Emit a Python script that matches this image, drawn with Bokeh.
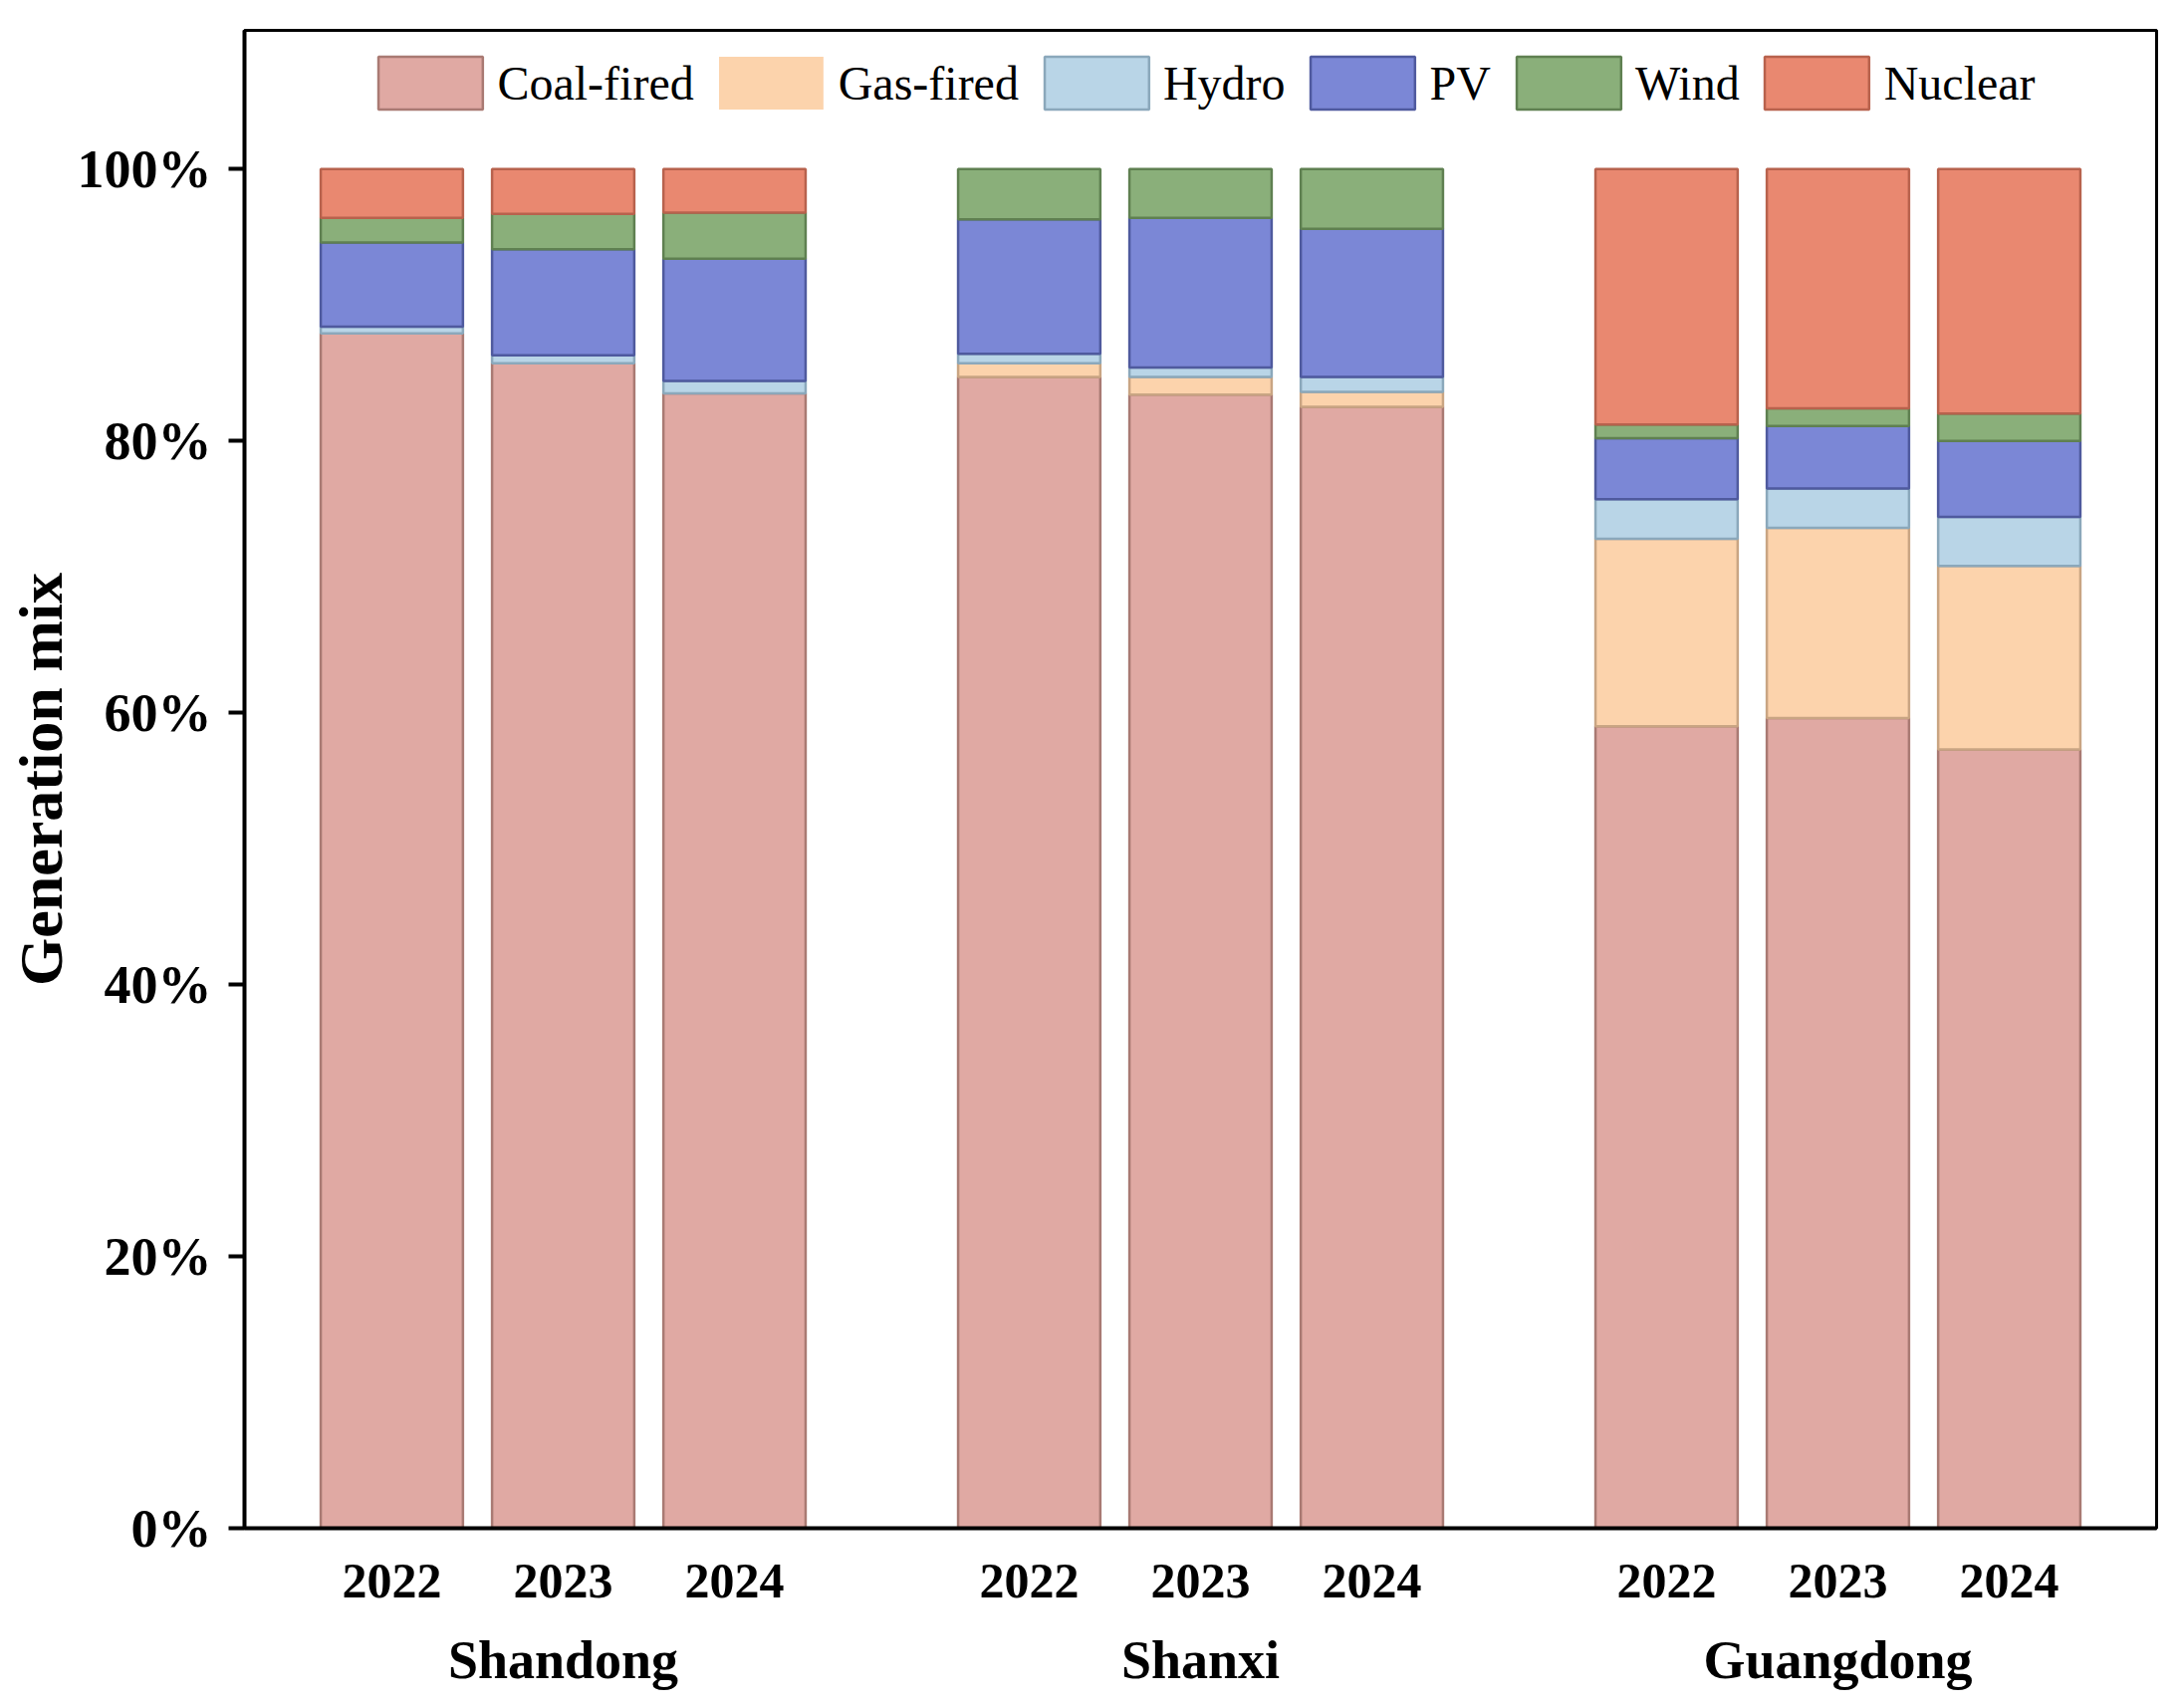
from bokeh.plotting import figure
from bokeh.models import ColumnDataSource, FactorRange, Legend, LegendItem, FixedTicker, PrintfTickFormatter
from bokeh.embed import file_html
from bokeh.resources import INLINE

# generation mix (%) per province and year
provinces = ["Shandong", "Shanxi", "Guangdong"]
years = ["2022", "2023", "2024"]
sources = ["Coal-fired", "Gas-fired", "Hydro", "PV", "Wind", "Nuclear"]

coal = [87.9, 85.7, 83.5, 84.7, 83.4, 82.5, 59.0, 59.6, 57.3]
gas = [0.0, 0.0, 0.0, 1.0, 1.3, 1.1, 13.8, 14.0, 13.5]
hydro = [0.5, 0.6, 0.9, 0.7, 0.7, 1.1, 2.9, 2.9, 3.6]
pv = [6.2, 7.8, 9.0, 9.9, 11.0, 10.9, 4.5, 4.6, 5.6]
wind = [1.8, 2.6, 3.4, 3.7, 3.6, 4.4, 1.0, 1.3, 2.0]
nuclear = [3.6, 3.3, 3.2, 0.0, 0.0, 0.0, 18.8, 17.6, 18.0]

y_ticks = [0, 20, 40, 60, 80, 100]

fills = ["#e0a9a3", "#fcd3ac", "#b9d5e7", "#7b87d6", "#8aaf7a", "#e98870"]
edges = ["#a97a73", "#c9a583", "#8ba8bb", "#4f5a9e", "#5f8051", "#b8624d"]

x = [(p, y) for p in provinces for y in years]
data = dict(x=x)
for s, vals in zip(sources, [coal, gas, hydro, pv, wind, nuclear]):
    data[s] = vals
    # hide the outline of empty segments
    data[s + "_la"] = [1.0 if v > 0 else 0.0 for v in vals]
src = ColumnDataSource(data=data)

xr = FactorRange(*x, group_padding=0.72, range_padding=0.36, range_padding_units="absolute")

p = figure(x_range=xr, y_range=(0, 110.2), width=2174, height=1699,
           output_backend="svg", toolbar_location=None,
           min_border_left=245, min_border_right=9, min_border_top=30, min_border_bottom=158)

rs = p.vbar_stack(sources, x="x", width=0.83, source=src,
                  fill_color=fills, line_color=edges, line_width=2.5,
                  line_alpha=[s + "_la" for s in sources])

legend = Legend(items=[LegendItem(label=s, renderers=[r]) for s, r in zip(sources, rs)],
                orientation="horizontal", location="top_center",
                glyph_width=131, glyph_height=66, label_standoff=2, spacing=12,
                label_text_font="Liberation Serif", label_text_font_size="48px",
                label_text_color="black", border_line_color=None,
                background_fill_alpha=0, margin=20, padding=10)
p.add_layout(legend, "center")

p.xgrid.grid_line_color = None
p.ygrid.grid_line_color = None
p.outline_line_color = "black"
p.outline_line_width = 3
p.outline_line_alpha = 1

p.yaxis.ticker = FixedTicker(ticks=y_ticks)
p.yaxis.formatter = PrintfTickFormatter(format="%d%%")
p.yaxis.axis_label = "Generation mix"
p.yaxis.axis_label_text_font = "Liberation Serif"
p.yaxis.axis_label_text_font_style = "bold"
p.yaxis.axis_label_text_font_size = "62px"
p.yaxis.axis_label_text_color = "black"
p.yaxis.axis_label_standoff = 0
p.yaxis.major_label_text_font = "Liberation Serif"
p.yaxis.major_label_text_font_style = "bold"
p.yaxis.major_label_text_font_size = "54px"
p.yaxis.major_label_text_color = "black"
p.yaxis.major_label_standoff = 17
p.yaxis.major_tick_out = 16
p.yaxis.major_tick_in = 0
p.yaxis.major_tick_line_width = 4
p.yaxis.minor_tick_line_color = None
p.yaxis.axis_line_width = 4

p.xaxis.major_label_text_font = "Liberation Serif"
p.xaxis.major_label_text_font_style = "bold"
p.xaxis.major_label_text_font_size = "50px"
p.xaxis.major_label_text_color = "black"
p.xaxis.group_text_font = "Liberation Serif"
p.xaxis.group_text_font_style = "bold"
p.xaxis.group_text_font_size = "54px"
p.xaxis.group_text_line_height = 0.8
p.xaxis.group_text_color = "black"
p.xaxis.major_tick_line_color = None
p.xaxis.minor_tick_line_color = None
p.xaxis.separator_line_color = None
p.xaxis.major_label_standoff = 30
p.xaxis.axis_line_width = 4

open("out.html", "w").write(file_html(p, INLINE))
